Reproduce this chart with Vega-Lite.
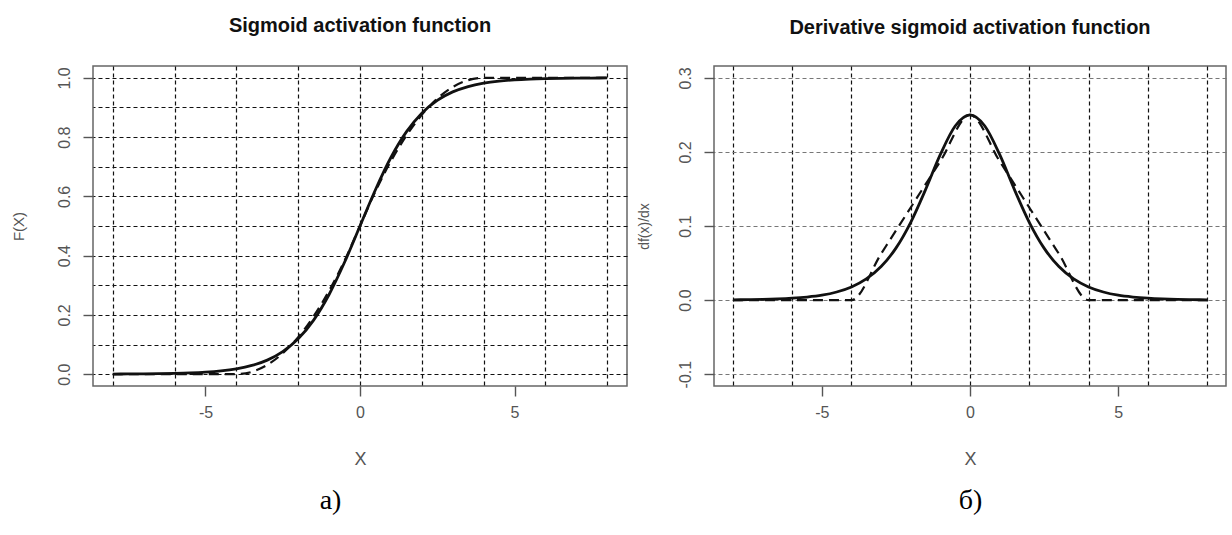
{
  "$schema": "https://vega.github.io/schema/vega-lite/v6.json",
  "background": "white",
  "padding": {"left": 10, "top": 15, "right": 0, "bottom": 0},
  "bounds": "flush",
  "spacing": 87,
  "config": {
    "font": "Liberation Sans",
    "view": {"stroke": "#666", "strokeWidth": 1.5},
    "axis": {"labelFont": "Liberation Sans", "titleFont": "Liberation Sans", "labelColor": "#555", "titleColor": "#555", "tickColor": "#555", "tickWidth": 1.4, "titleFontWeight": "normal"}
  },
  "datasets": {
    "sigSolid": [
      {"x": -8, "y": 0.0003}, {"x": -7.5, "y": 0.0006}, {"x": -7, "y": 0.0009}, {"x": -6.5, "y": 0.0015},
      {"x": -6, "y": 0.0025}, {"x": -5.5, "y": 0.0041}, {"x": -5, "y": 0.0067}, {"x": -4.5, "y": 0.011},
      {"x": -4, "y": 0.018}, {"x": -3.5, "y": 0.0293}, {"x": -3, "y": 0.0474}, {"x": -2.5, "y": 0.0759},
      {"x": -2, "y": 0.1192}, {"x": -1.5, "y": 0.1824}, {"x": -1, "y": 0.2689}, {"x": -0.5, "y": 0.3775},
      {"x": 0, "y": 0.5}, {"x": 0.5, "y": 0.6225}, {"x": 1, "y": 0.7311}, {"x": 1.5, "y": 0.8176},
      {"x": 2, "y": 0.8808}, {"x": 2.5, "y": 0.9241}, {"x": 3, "y": 0.9526}, {"x": 3.5, "y": 0.9707},
      {"x": 4, "y": 0.982}, {"x": 4.5, "y": 0.989}, {"x": 5, "y": 0.9933}, {"x": 5.5, "y": 0.9959},
      {"x": 6, "y": 0.9975}, {"x": 6.5, "y": 0.9985}, {"x": 7, "y": 0.9991}, {"x": 7.5, "y": 0.9994},
      {"x": 8, "y": 0.9997}
    ],
    "sigApprox": [
      {"x": -8, "y": 0}, {"x": -6, "y": 0}, {"x": -4, "y": 0}, {"x": -3.5, "y": 0.0078},
      {"x": -3, "y": 0.0313}, {"x": -2.5, "y": 0.0703}, {"x": -2, "y": 0.125}, {"x": -1.5, "y": 0.1953},
      {"x": -1, "y": 0.2813}, {"x": -0.5, "y": 0.3828}, {"x": 0, "y": 0.5}, {"x": 0.5, "y": 0.6172},
      {"x": 1, "y": 0.7188}, {"x": 1.5, "y": 0.8047}, {"x": 2, "y": 0.875}, {"x": 2.5, "y": 0.9297},
      {"x": 3, "y": 0.9688}, {"x": 3.5, "y": 0.9922}, {"x": 4, "y": 1}, {"x": 6, "y": 1}, {"x": 8, "y": 1}
    ],
    "dSolid": [
      {"x": -8, "y": 0.0003}, {"x": -7.5, "y": 0.0006}, {"x": -7, "y": 0.0009}, {"x": -6.5, "y": 0.0015},
      {"x": -6, "y": 0.0025}, {"x": -5.5, "y": 0.0041}, {"x": -5, "y": 0.0066}, {"x": -4.5, "y": 0.0109},
      {"x": -4, "y": 0.0177}, {"x": -3.5, "y": 0.0285}, {"x": -3, "y": 0.0452}, {"x": -2.5, "y": 0.0701},
      {"x": -2, "y": 0.105}, {"x": -1.5, "y": 0.1491}, {"x": -1, "y": 0.1966}, {"x": -0.5, "y": 0.235},
      {"x": 0, "y": 0.25}, {"x": 0.5, "y": 0.235}, {"x": 1, "y": 0.1966}, {"x": 1.5, "y": 0.1491},
      {"x": 2, "y": 0.105}, {"x": 2.5, "y": 0.0701}, {"x": 3, "y": 0.0452}, {"x": 3.5, "y": 0.0285},
      {"x": 4, "y": 0.0177}, {"x": 4.5, "y": 0.0109}, {"x": 5, "y": 0.0066}, {"x": 5.5, "y": 0.0041},
      {"x": 6, "y": 0.0025}, {"x": 6.5, "y": 0.0015}, {"x": 7, "y": 0.0009}, {"x": 7.5, "y": 0.0006},
      {"x": 8, "y": 0.0003}
    ],
    "dApprox": [
      {"x": -8, "y": 0}, {"x": -6, "y": 0}, {"x": -4, "y": 0}, {"x": -3, "y": 0.0625}, {"x": -2, "y": 0.125},
      {"x": -1, "y": 0.1875}, {"x": 0, "y": 0.25}, {"x": 1, "y": 0.1875}, {"x": 2, "y": 0.125},
      {"x": 3, "y": 0.0625}, {"x": 4, "y": 0}, {"x": 6, "y": 0}, {"x": 8, "y": 0}
    ]
  },
  "hconcat": [
    {
      "width": 534,
      "height": 320,
      "title": {"text": "Sigmoid activation function", "font": "Liberation Sans", "fontSize": 20, "fontWeight": "bold", "color": "#111", "offset": 30, "anchor": "middle"},
      "layer": [
        {
          "data": {"name": "sigApprox"},
          "mark": {"type": "line", "interpolate": "monotone", "strokeDash": [10, 6], "strokeWidth": 2.2, "color": "#111", "clip": true},
          "encoding": {
            "x": {"field": "x", "type": "quantitative", "scale": {"domain": [-8.64, 8.64], "nice": false, "zero": false},
              "axis": {"orient": "bottom", "values": [-8, -6, -4, -2, 0, 2, 4, 6, 8], "grid": true, "gridDash": [4, 3], "gridColor": "#111", "gridWidth": 1.2, "gridOpacity": 1, "labels": false, "ticks": false, "domain": false,
                "title": "a)", "titleFont": "Liberation Serif", "titleFontSize": 28, "titleFontWeight": "normal", "titleColor": "#000", "titlePadding": 100, "titleX": 237}},
            "y": {"field": "y", "type": "quantitative", "scale": {"domain": [-0.04, 1.04], "nice": false, "zero": false},
              "axis": {"orient": "right", "values": [0, 0.1, 0.2, 0.3, 0.4, 0.5, 0.6, 0.7, 0.8, 0.9, 1.0], "grid": true, "gridDash": [4, 3], "gridColor": "#111", "gridWidth": 1.2, "gridOpacity": 1, "labels": false, "ticks": false, "domain": false, "title": null, "minExtent": 0, "maxExtent": 0}}
          }
        },
        {
          "data": {"name": "sigSolid"},
          "mark": {"type": "line", "interpolate": "monotone", "strokeWidth": 2.8, "color": "#111"},
          "encoding": {
            "x": {"field": "x", "type": "quantitative", "scale": {"domain": [-8.64, 8.64], "nice": false, "zero": false},
              "axis": {"orient": "bottom", "values": [-5, 0, 5], "labelExpr": "replace(datum.label, '\u2212', '-')", "grid": false, "domain": false, "tickSize": 10, "labelFontSize": 16, "labelPadding": 8, "title": "X", "titleFontSize": 18, "titlePadding": 30}},
            "y": {"field": "y", "type": "quantitative", "scale": {"domain": [-0.04, 1.04], "nice": false, "zero": false},
              "axis": {"orient": "left", "values": [0, 0.2, 0.4, 0.6, 0.8, 1.0], "format": ".1f", "grid": false, "domain": false, "tickSize": 10, "labelFontSize": 16, "labelAngle": -90, "labelAlign": "center", "labelBaseline": "bottom", "labelPadding": 11, "title": "F(X)", "titleFontSize": 15, "titlePadding": 30}}
          }
        }
      ],
      "resolve": {"axis": {"x": "independent", "y": "independent"}}
    },
    {
      "width": 512,
      "height": 320,
      "title": {"text": "Derivative sigmoid activation function", "font": "Liberation Sans", "fontSize": 20, "fontWeight": "bold", "color": "#111", "offset": 28, "anchor": "middle"},
      "layer": [
        {
          "data": {"name": "dApprox"},
          "mark": {"type": "line", "interpolate": "monotone", "strokeDash": [10, 6], "strokeWidth": 2.2, "color": "#111", "clip": true},
          "encoding": {
            "x": {"field": "x", "type": "quantitative", "scale": {"domain": [-8.64, 8.64], "nice": false, "zero": false},
              "axis": {"orient": "bottom", "values": [-8, -6, -4, -2, 0, 2, 4, 6, 8], "grid": true, "gridDash": [4, 3], "gridColor": "#111", "gridWidth": 1.2, "gridOpacity": 1, "labels": false, "ticks": false, "domain": false,
                "title": "б)", "titleFont": "Liberation Serif", "titleFontSize": 28, "titleFontWeight": "normal", "titleColor": "#000", "titlePadding": 100}},
            "y": {"field": "y", "type": "quantitative", "scale": {"domain": [-0.116, 0.316], "nice": false, "zero": false},
              "axis": {"orient": "right", "values": [-0.1, 0, 0.1, 0.2, 0.3], "grid": true, "gridDash": [4, 3], "gridColor": "#777", "gridWidth": 1.2, "gridOpacity": 1, "labels": false, "ticks": false, "domain": false, "title": null, "minExtent": 0, "maxExtent": 0}}
          }
        },
        {
          "data": {"name": "dSolid"},
          "mark": {"type": "line", "interpolate": "monotone", "strokeWidth": 2.8, "color": "#111"},
          "encoding": {
            "x": {"field": "x", "type": "quantitative", "scale": {"domain": [-8.64, 8.64], "nice": false, "zero": false},
              "axis": {"orient": "bottom", "values": [-5, 0, 5], "labelExpr": "replace(datum.label, '\u2212', '-')", "grid": false, "domain": false, "tickSize": 10, "labelFontSize": 16, "labelPadding": 8, "title": "X", "titleFontSize": 18, "titlePadding": 30}},
            "y": {"field": "y", "type": "quantitative", "scale": {"domain": [-0.116, 0.316], "nice": false, "zero": false},
              "axis": {"orient": "left", "values": [-0.1, 0, 0.1, 0.2, 0.3], "format": ".1f", "labelExpr": "replace(datum.label, '\u2212', '-')", "grid": false, "domain": false, "tickSize": 10, "labelFontSize": 16, "labelAngle": -90, "labelAlign": "center", "labelBaseline": "bottom", "labelPadding": 11, "title": "df(x)/dx", "titleFontSize": 14, "titlePadding": 26}}
          }
        }
      ],
      "resolve": {"axis": {"x": "independent", "y": "independent"}}
    }
  ]
}
